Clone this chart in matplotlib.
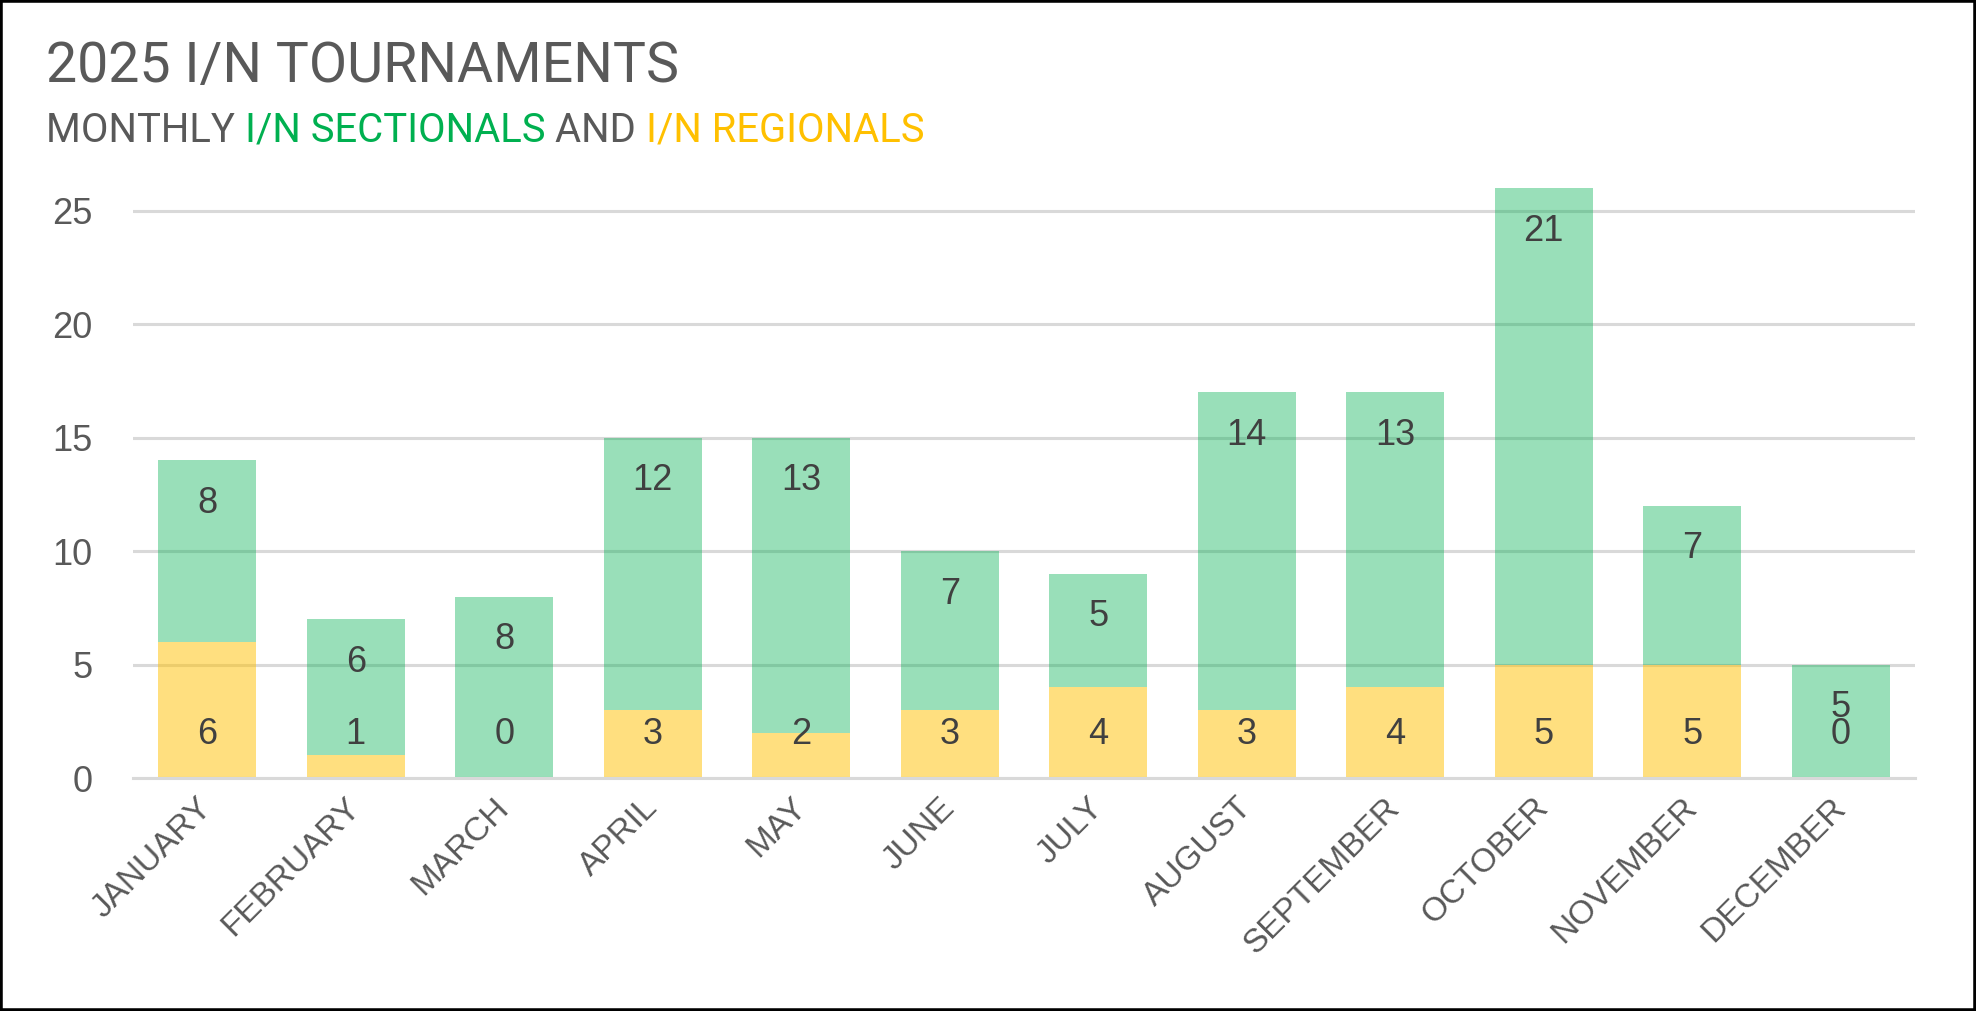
import matplotlib
matplotlib.use("Agg")
import matplotlib.pyplot as plt
from matplotlib.patches import Rectangle
import numpy as np

months = ["JANUARY", "FEBRUARY", "MARCH", "APRIL", "MAY", "JUNE", "JULY",
          "AUGUST", "SEPTEMBER", "OCTOBER", "NOVEMBER", "DECEMBER"]
regionals = [6, 1, 0, 3, 2, 3, 4, 3, 4, 5, 5, 0]
sectionals = [8, 6, 8, 12, 13, 7, 5, 14, 13, 21, 7, 5]
yticks = [0, 5, 10, 15, 20, 25]

green = "#00B050"
gold = "#FFC000"
grey = "#595959"
dark = "#404040"
grid_c = "#D9D9D9"

plt.rcParams['font.family'] = ['Liberation Sans', 'DejaVu Sans']

fig = plt.figure(figsize=(19.76, 10.11), dpi=100)
ax = fig.add_axes([133 / 1976, 1 - 778 / 1011, 1782 / 1976, 0.6057])

x = np.arange(len(months))
reg = np.array(regionals)
sec = np.array(sectionals)
w = 0.66

ax.bar(x, reg, w, color=gold, alpha=0.5, zorder=3, linewidth=0)
ax.bar(x, sec, w, bottom=reg, color=green, alpha=0.4, zorder=3, linewidth=0)

# labels: regionals at inside base, sectionals at inside end
for i in range(len(months)):
    ax.annotate(str(reg[i]), (x[i], 0), xytext=(0, 31.5), textcoords="offset points",
                ha="center", va="center", fontsize=26, color=dark, zorder=5)
    ax.annotate(str(sec[i]), (x[i], reg[i] + sec[i]), xytext=(0, -31), textcoords="offset points",
                ha="center", va="center", fontsize=26, color=dark, zorder=5)

ax.set_xlim(-0.5, len(months) - 0.5)
ax.set_ylim(0, 27)
ax.set_yticks(yticks)
ax.set_yticklabels([str(t) for t in yticks])
ax.set_xticks(x)
ax.set_xticklabels(months, rotation=45, ha="right", va="center", rotation_mode="anchor")
ax.tick_params(axis="y", length=0, pad=29, labelsize=26, labelcolor=grey)
ax.tick_params(axis="x", length=0, pad=18, labelsize=24, labelcolor=grey)

ax.yaxis.grid(True, color=grid_c, linewidth=2.2, zorder=1)
ax.set_axisbelow(True)
for s in ["top", "right", "left"]:
    ax.spines[s].set_visible(False)
ax.spines["bottom"].set_color(grid_c)
ax.spines["bottom"].set_linewidth(2.2)
ax.spines["bottom"].set_zorder(4)

# title and coloured subtitle
fig.text(46 / 1976, 1 - 82 / 1011, "2025 I/N TOURNAMENTS", fontsize=40, color=grey,
         family=["Roboto", "DejaVu Sans"], va="baseline", ha="left")

renderer = fig.canvas.get_renderer()
parts = [("MONTHLY ", grey), ("I/N SECTIONALS ", green), ("AND ", grey), ("I/N REGIONALS", gold)]
xpos = 46 / 1976
for txt, col in parts:
    t = fig.text(xpos, 1 - 142 / 1011, txt, fontsize=28.8, color=col,
                 family=["Roboto", "DejaVu Sans"], va="baseline", ha="left")
    bb = t.get_window_extent(renderer)
    xpos = bb.x1 / fig.bbox.width

# black frame
fig.patches.append(Rectangle((0, 0), 1, 1, transform=fig.transFigure, fill=False,
                             edgecolor="black", linewidth=4, zorder=10))

fig.savefig("out.png", dpi=100)
